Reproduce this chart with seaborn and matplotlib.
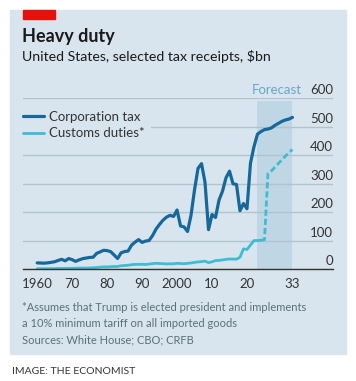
import matplotlib
matplotlib.use("Agg")
import matplotlib.pyplot as plt
import matplotlib.transforms as mtrans
from matplotlib.patches import Rectangle
import seaborn as sns
import numpy as np
import pandas as pd

# Datos: ingresos fiscales seleccionados de EE.UU., $bn
years = list(range(1960, 2034))
corporation_tax = [21.5, 21.0, 20.5, 21.6, 23.5, 25.5, 30.1, 34.0, 28.7, 36.7,
                   32.8, 26.8, 32.2, 36.2, 38.6, 40.6, 41.4, 54.9, 60.0, 65.7,
                   64.6, 61.1, 49.2, 37.0, 56.9, 61.3, 63.1, 83.9, 94.5, 103.3,
                   93.5, 98.1, 100.3, 117.5, 140.4, 157.0, 171.8, 182.3, 188.7, 184.7,
                   207.3, 151.1, 148.0, 131.8, 189.4, 278.3, 353.9, 370.2, 304.3, 138.2,
                   191.4, 181.1, 242.3, 273.5, 320.7, 343.8, 299.6, 297.0, 204.7, 230.2,
                   211.8, 371.8, 430, 474, 483, 490, 492, 496, 505, 512,
                   519, 524, 527, 533]

customs_years = list(range(1960, 2025))
customs_duties = [1.1, 1.0, 1.2, 1.2, 1.3, 1.4, 1.8, 1.9, 2.0, 2.3,
                  2.4, 2.6, 3.3, 3.2, 3.3, 3.7, 4.1, 5.2, 6.6, 7.4,
                  7.2, 8.1, 8.9, 8.7, 11.4, 12.1, 13.3, 15.1, 16.2, 16.3,
                  16.7, 15.9, 17.4, 18.8, 20.1, 19.3, 18.7, 17.9, 18.3, 18.3,
                  19.9, 19.4, 18.6, 19.9, 21.1, 23.4, 24.8, 26.0, 27.6, 22.5,
                  25.3, 29.5, 30.3, 31.8, 33.9, 35.0, 34.8, 34.6, 41.3, 70.8,
                  68.6, 84.0, 100.0, 100.0, 101.0]

forecast_years = list(range(2024, 2034))
customs_forecast = [101, 103, 336, 345, 358, 371, 384, 397, 409, 420]

forecast_start, forecast_end = 2023, 2033
y_ticks = [0, 100, 200, 300, 400, 500, 600]
x_ticks = list(range(1960, 2031, 5)) + [2033]
x_labels = {1960: "1960", 1970: "70", 1980: "80", 1990: "90",
            2000: "2000", 2010: "10", 2020: "20", 2033: "33"}

# Colores
bg = "#d8e5ee"
band = "#bfd6e4"
grid = "#b3c3ce"
dark_blue = "#17689a"
cyan = "#3ebcd2"
text_dark = "#1a1a1a"
text_grey = "#5e6e78"

sns.set_style("white")
plt.rcParams["font.family"] = ["Lato", "DejaVu Sans"]

W, H = 356, 381
fig = plt.figure(figsize=(W / 100, H / 100), dpi=100)
fig.patch.set_facecolor("white")

def fx(px):
    return px / W

def fy(py):
    return 1 - py / H

# Panel de fondo y rectangulo rojo
fig.patches.append(Rectangle((fx(10), fy(354)), fx(336), (354 - 10) / H,
                             transform=fig.transFigure, color=bg, zorder=-2))
fig.patches.append(Rectangle((fx(22.5), fy(18.7)), fx(32), 8.7 / H,
                             transform=fig.transFigure, color="#e3120b", zorder=-1))

ax = fig.add_axes([fx(22.5), fy(269), fx(333 - 22.5), (269 - 98.3) / H])
ax.set_facecolor("none")
ax.set_zorder(2)

ax.fill_between([forecast_start, forecast_end], 0, 590, color=band, lw=0, zorder=0.2)

sns.lineplot(x=years, y=corporation_tax, ax=ax, color=dark_blue, lw=2.3,
             label="Corporation tax", zorder=3)
sns.lineplot(x=customs_years, y=customs_duties, ax=ax, color=cyan, lw=2.0,
             label="Customs duties*", zorder=2)
sns.lineplot(x=forecast_years, y=customs_forecast, ax=ax, color=cyan, lw=2.0,
             linestyle=(0, (2.2, 1.1)), zorder=2)

ax.set_xlim(1955.8, 2044.6)
ax.set_ylim(0, 600)

ax.set_yticks(y_ticks)
ax.set_yticklabels([])
ax.tick_params(axis="y", length=0)
ax.yaxis.grid(True, color=grid, lw=1.0)
ax.set_axisbelow(True)

ax.set_xticks(x_ticks)
ax.set_xticklabels([x_labels.get(t, "") for t in x_ticks])
ax.tick_params(axis="x", length=3.3, width=0.8, color="#333333", pad=3,
               labelsize=9.5, labelcolor="#333333")

for s in ["top", "right", "left"]:
    ax.spines[s].set_visible(False)
ax.spines["bottom"].set_color("#333333")
ax.spines["bottom"].set_linewidth(1.0)

lab_trans = mtrans.offset_copy(ax.get_yaxis_transform(), fig=fig, y=4, units="dots")
for v in y_ticks:
    ax.text(1, v, str(v), transform=lab_trans, ha="right", va="baseline",
            fontsize=9.5, color="#333333", clip_on=False)

fc_trans = mtrans.offset_copy(ax.transData, fig=fig, y=4, units="dots")
ax.text((forecast_start + forecast_end) / 2 + 0.5, 600, "Forecast", transform=fc_trans,
        ha="center", va="baseline", fontsize=9.5, color="#6aa6c6", clip_on=False)

handles, labels = ax.get_legend_handles_labels()
leg = ax.legend(handles, labels, loc="upper left", bbox_to_anchor=(fx(16.5), fy(104)),
                bbox_transform=fig.transFigure, fontsize=9.5, handlelength=1.55,
                handletextpad=0.4, labelspacing=0.35, borderpad=0.5,
                borderaxespad=0, frameon=True, facecolor=bg, edgecolor="none",
                framealpha=1, fancybox=False)
for t in leg.get_texts():
    t.set_color("#333333")

fig.text(fx(22.5), fy(41.7), "Heavy duty", fontsize=13, fontweight="bold",
         color=text_dark, va="baseline")
fig.text(fx(22.5), fy(60.7), "United States, selected tax receipts, $bn", fontsize=10.2,
         color=text_dark, va="baseline")

fig.text(fx(22.5), fy(311), "*Assumes that Trump is elected president and implements",
         fontsize=8, color=text_grey, va="baseline")
fig.text(fx(22.5), fy(327), "a 10% minimum tariff on all imported goods",
         fontsize=8, color=text_grey, va="baseline")
fig.text(fx(22.5), fy(343), "Sources: White House; CBO; CRFB",
         fontsize=8, color=text_grey, va="baseline")

fig.text(fx(12), fy(374.5), "IMAGE: THE ECONOMIST", fontsize=7.5,
         color="#333333", va="baseline")

fig.savefig("out.png", dpi=100, facecolor="white")
